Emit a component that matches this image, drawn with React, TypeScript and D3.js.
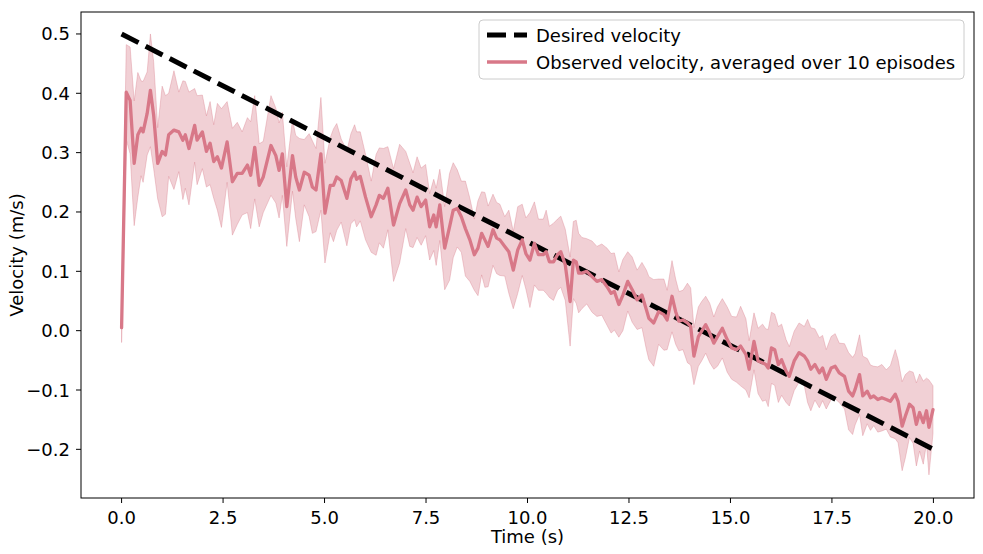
import React from 'react';
import * as d3 from 'd3';

// Observed velocity (mean over 10 episodes) and its spread
const observedTime = [
  0.0, 0.115, 0.21, 0.31, 0.4, 0.48, 0.53, 0.63, 0.71, 0.79, 0.89, 1.0, 1.08, 1.16, 1.29, 1.41, 1.51, 1.57, 1.66,
  1.8, 1.86, 1.99, 2.09, 2.18, 2.27, 2.36, 2.46, 2.6, 2.73, 2.85, 2.97, 3.1, 3.18, 3.28, 3.39, 3.49, 3.68, 3.8,
  3.88, 3.96, 4.07, 4.21, 4.29, 4.38, 4.5, 4.62, 4.7, 4.79, 4.91, 5.01, 5.14, 5.22, 5.3, 5.41, 5.55, 5.65, 5.74,
  5.79, 5.88, 6.01, 6.15, 6.27, 6.35, 6.45, 6.56, 6.7, 6.85, 7.0, 7.1, 7.18, 7.28, 7.38, 7.49, 7.59, 7.69, 7.75,
  7.84, 7.96, 8.08, 8.17, 8.27, 8.37, 8.47, 8.58, 8.69, 8.78, 8.87, 8.95, 9.03, 9.15, 9.24, 9.32, 9.44, 9.54,
  9.65, 9.76, 9.87, 9.96, 10.06, 10.17, 10.27, 10.39, 10.46, 10.54, 10.64, 10.74, 10.82, 10.93, 11.05, 11.13,
  11.2, 11.26, 11.34, 11.46, 11.59, 11.71, 11.83, 11.96, 12.06, 12.14, 12.25, 12.35, 12.47, 12.58, 12.7, 12.82,
  12.93, 12.99, 13.11, 13.23, 13.36, 13.44, 13.56, 13.65, 13.73, 13.83, 13.94, 14.02, 14.1, 14.21, 14.29, 14.39,
  14.49, 14.59, 14.68, 14.8, 14.92, 15.03, 15.15, 15.25, 15.38, 15.46, 15.58, 15.68, 15.79, 15.87, 15.93, 16.01,
  16.09, 16.18, 16.26, 16.37, 16.45, 16.57, 16.69, 16.82, 16.9, 16.98, 17.08, 17.19, 17.27, 17.36, 17.48, 17.58,
  17.68, 17.81, 17.91, 18.01, 18.07, 18.18, 18.26, 18.37, 18.45, 18.53, 18.63, 18.73, 18.84, 18.94, 19.06, 19.13,
  19.23, 19.31, 19.41, 19.5, 19.58, 19.66, 19.75, 19.83, 19.89, 19.99,
];

const observedMean = [
  0.005, 0.402, 0.388, 0.282, 0.33, 0.341, 0.335, 0.366, 0.405, 0.363, 0.282, 0.302, 0.296, 0.33, 0.338, 0.335,
  0.321, 0.33, 0.307, 0.346, 0.321, 0.335, 0.302, 0.316, 0.285, 0.293, 0.274, 0.318, 0.251, 0.265, 0.265, 0.279,
  0.262, 0.309, 0.245, 0.259, 0.312, 0.295, 0.27, 0.298, 0.209, 0.295, 0.259, 0.237, 0.267, 0.262, 0.242, 0.237,
  0.298, 0.198, 0.245, 0.245, 0.259, 0.253, 0.223, 0.256, 0.267, 0.255, 0.26, 0.225, 0.192, 0.212, 0.228, 0.223,
  0.24, 0.178, 0.214, 0.237, 0.212, 0.203, 0.225, 0.209, 0.22, 0.175, 0.195, 0.175, 0.212, 0.139, 0.175, 0.203,
  0.206, 0.192, 0.172, 0.153, 0.128, 0.139, 0.164, 0.153, 0.142, 0.17, 0.156, 0.153, 0.142, 0.133, 0.102, 0.136,
  0.153, 0.13, 0.119, 0.147, 0.128, 0.128, 0.133, 0.116, 0.116, 0.128, 0.133, 0.111, 0.049, 0.119, 0.116, 0.097,
  0.097, 0.1, 0.091, 0.083, 0.086, 0.074, 0.063, 0.066, 0.044, 0.06, 0.083, 0.069, 0.052, 0.06, 0.035, 0.021,
  0.013, 0.032, 0.027, 0.018, 0.058, 0.032, 0.016, 0.018, 0.013, 0.007, -0.043, -0.01, -0.001, 0.01, -0.004,
  -0.021, -0.01, 0.004, -0.015, -0.029, -0.032, -0.026, -0.04, -0.065, -0.018, -0.051, -0.054, -0.057, -0.063,
  -0.029, -0.032, -0.057, -0.049, -0.068, -0.077, -0.051, -0.037, -0.043, -0.051, -0.065, -0.057, -0.071, -0.063,
  -0.082, -0.063, -0.06, -0.071, -0.077, -0.102, -0.11, -0.099, -0.074, -0.11, -0.102, -0.113, -0.11, -0.116,
  -0.113, -0.116, -0.119, -0.107, -0.119, -0.161, -0.144, -0.124, -0.13, -0.158, -0.138, -0.155, -0.135, -0.163,
  -0.133,
];

const observedStd = [
  0.025, 0.08, 0.09, 0.105, 0.105, 0.08, 0.085, 0.07, 0.095, 0.09, 0.06, 0.11, 0.1, 0.07, 0.1, 0.067, 0.1, 0.09,
  0.095, 0.062, 0.075, 0.062, 0.06, 0.07, 0.062, 0.09, 0.1, 0.068, 0.09, 0.086, 0.07, 0.08, 0.09, 0.087, 0.07,
  0.06, 0.084, 0.08, 0.08, 0.07, 0.067, 0.06, 0.07, 0.087, 0.055, 0.07, 0.078, 0.07, 0.095, 0.084, 0.08, 0.095,
  0.09, 0.07, 0.08, 0.076, 0.08, 0.08, 0.075, 0.072, 0.06, 0.085, 0.08, 0.084, 0.07, 0.095, 0.1, 0.065, 0.07,
  0.063, 0.068, 0.065, 0.06, 0.056, 0.06, 0.065, 0.06, 0.07, 0.09, 0.08, 0.065, 0.06, 0.08, 0.07, 0.06, 0.08,
  0.07, 0.08, 0.068, 0.06, 0.06, 0.06, 0.05, 0.07, 0.065, 0.073, 0.06, 0.06, 0.08, 0.07, 0.06, 0.06, 0.07, 0.06,
  0.065, 0.06, 0.06, 0.06, 0.075, 0.065, 0.07, 0.067, 0.06, 0.055, 0.06, 0.059, 0.06, 0.065, 0.067, 0.065, 0.055,
  0.06, 0.05, 0.055, 0.05, 0.055, 0.067, 0.07, 0.073, 0.055, 0.06, 0.05, 0.06, 0.055, 0.05, 0.05, 0.067, 0.065,
  0.048, 0.05, 0.05, 0.048, 0.05, 0.044, 0.05, 0.05, 0.055, 0.053, 0.055, 0.067, 0.06, 0.048, 0.048, 0.055,
  0.065, 0.06, 0.065, 0.06, 0.06, 0.064, 0.06, 0.053, 0.05, 0.05, 0.05, 0.05, 0.07, 0.07, 0.06, 0.059, 0.055,
  0.05, 0.053, 0.055, 0.05, 0.055, 0.065, 0.065, 0.06, 0.067, 0.067, 0.055, 0.055, 0.05, 0.055, 0.056, 0.05,
  0.06, 0.075, 0.07, 0.075, 0.07, 0.056, 0.06, 0.07, 0.065, 0.07, 0.055, 0.08, 0.04,
];

// Desired velocity: straight ramp
const desiredTime = [0, 20];
const desiredVelocity = [0.5, -0.2];

const xTicks = [0, 2.5, 5, 7.5, 10, 12.5, 15, 17.5, 20];
const yTicks = [-0.2, -0.1, 0, 0.1, 0.2, 0.3, 0.4, 0.5];

const legendLabels = ['Desired velocity', 'Observed velocity, averaged over 10 episodes'];

const WIDTH = 983;
const HEIGHT = 554;
const margin = { top: 12, right: 9, bottom: 56, left: 81 };
const FONT = 'DejaVu Sans, sans-serif';
const PINK = '#d87888';

const fmtTick = (v: number) => d3.format('.1f')(v).replace('-', '\u2212');

const App = () => {
  const innerW = WIDTH - margin.left - margin.right;
  const innerH = HEIGHT - margin.top - margin.bottom;

  const x = d3.scaleLinear().domain([-1, 21]).range([margin.left, margin.left + innerW]);
  const y = d3.scaleLinear().domain([-0.282, 0.537]).range([margin.top + innerH, margin.top]);

  const idx = d3.range(observedTime.length);

  const band = d3
    .area<number>()
    .x((i) => x(observedTime[i]))
    .y0((i) => y(observedMean[i] - observedStd[i]))
    .y1((i) => y(observedMean[i] + observedStd[i]));

  const meanLine = d3
    .line<number>()
    .x((i) => x(observedTime[i]))
    .y((i) => y(observedMean[i]));

  const desiredLine = d3
    .line<number>()
    .x((i) => x(desiredTime[i]))
    .y((i) => y(desiredVelocity[i]));

  const bottom = margin.top + innerH;
  const legendX = 479;
  const legendY = 20;

  return (
    <svg
      width={WIDTH}
      height={HEIGHT}
      style={{ position: 'absolute', left: 0, top: 0, background: '#fff' }}
      fontFamily={FONT}
    >
      <rect x={0} y={0} width={WIDTH} height={HEIGHT} fill="#fff" />

      {/* spread band */}
      <path d={band(idx) ?? ''} fill={PINK} fillOpacity={0.35} stroke={PINK} strokeOpacity={0.35} strokeWidth={1} />

      {/* desired velocity */}
      <path
        d={desiredLine(d3.range(desiredTime.length)) ?? ''}
        fill="none"
        stroke="#000"
        strokeWidth={5}
        strokeDasharray="19,8"
      />

      {/* observed mean */}
      <path
        d={meanLine(idx) ?? ''}
        fill="none"
        stroke={PINK}
        strokeWidth={3.3}
        strokeLinejoin="round"
        strokeLinecap="round"
      />

      {/* frame */}
      <rect x={margin.left} y={margin.top} width={innerW} height={innerH} fill="none" stroke="#000" strokeWidth={1} />

      {/* x axis */}
      {xTicks.map((t) => (
        <g key={`x${t}`}>
          <line x1={x(t)} x2={x(t)} y1={bottom} y2={bottom + 5} stroke="#000" />
          <text x={x(t)} y={bottom + 26} textAnchor="middle" fontSize={18} fill="#000">
            {fmtTick(t)}
          </text>
        </g>
      ))}
      <text x={margin.left + innerW / 2} y={bottom + 45} textAnchor="middle" fontSize={18} fill="#000">
        Time (s)
      </text>

      {/* y axis */}
      {yTicks.map((t) => (
        <g key={`y${t}`}>
          <line x1={margin.left - 5} x2={margin.left} y1={y(t)} y2={y(t)} stroke="#000" />
          <text x={margin.left - 11} y={y(t) + 6.5} textAnchor="end" fontSize={18} fill="#000">
            {fmtTick(t)}
          </text>
        </g>
      ))}
      <text
        transform={`translate(23,${margin.top + innerH / 2}) rotate(-90)`}
        textAnchor="middle"
        fontSize={18}
        fill="#000"
      >
        Velocity (m/s)
      </text>

      {/* legend */}
      <rect
        x={legendX}
        y={legendY}
        width={485}
        height={59}
        rx={4}
        fill="#fff"
        fillOpacity={0.8}
        stroke="#ccc"
        strokeWidth={1}
      />
      <line x1={487} x2={527} y1={35} y2={35} stroke="#000" strokeWidth={5} strokeDasharray="19,8" />
      <text x={536} y={41.5} fontSize={18} fill="#000">
        {legendLabels[0]}
      </text>
      <line x1={487} x2={527} y1={62} y2={62} stroke={PINK} strokeWidth={3.3} />
      <text x={536} y={68.5} fontSize={18} fill="#000">
        {legendLabels[1]}
      </text>
    </svg>
  );
};

export default App;
